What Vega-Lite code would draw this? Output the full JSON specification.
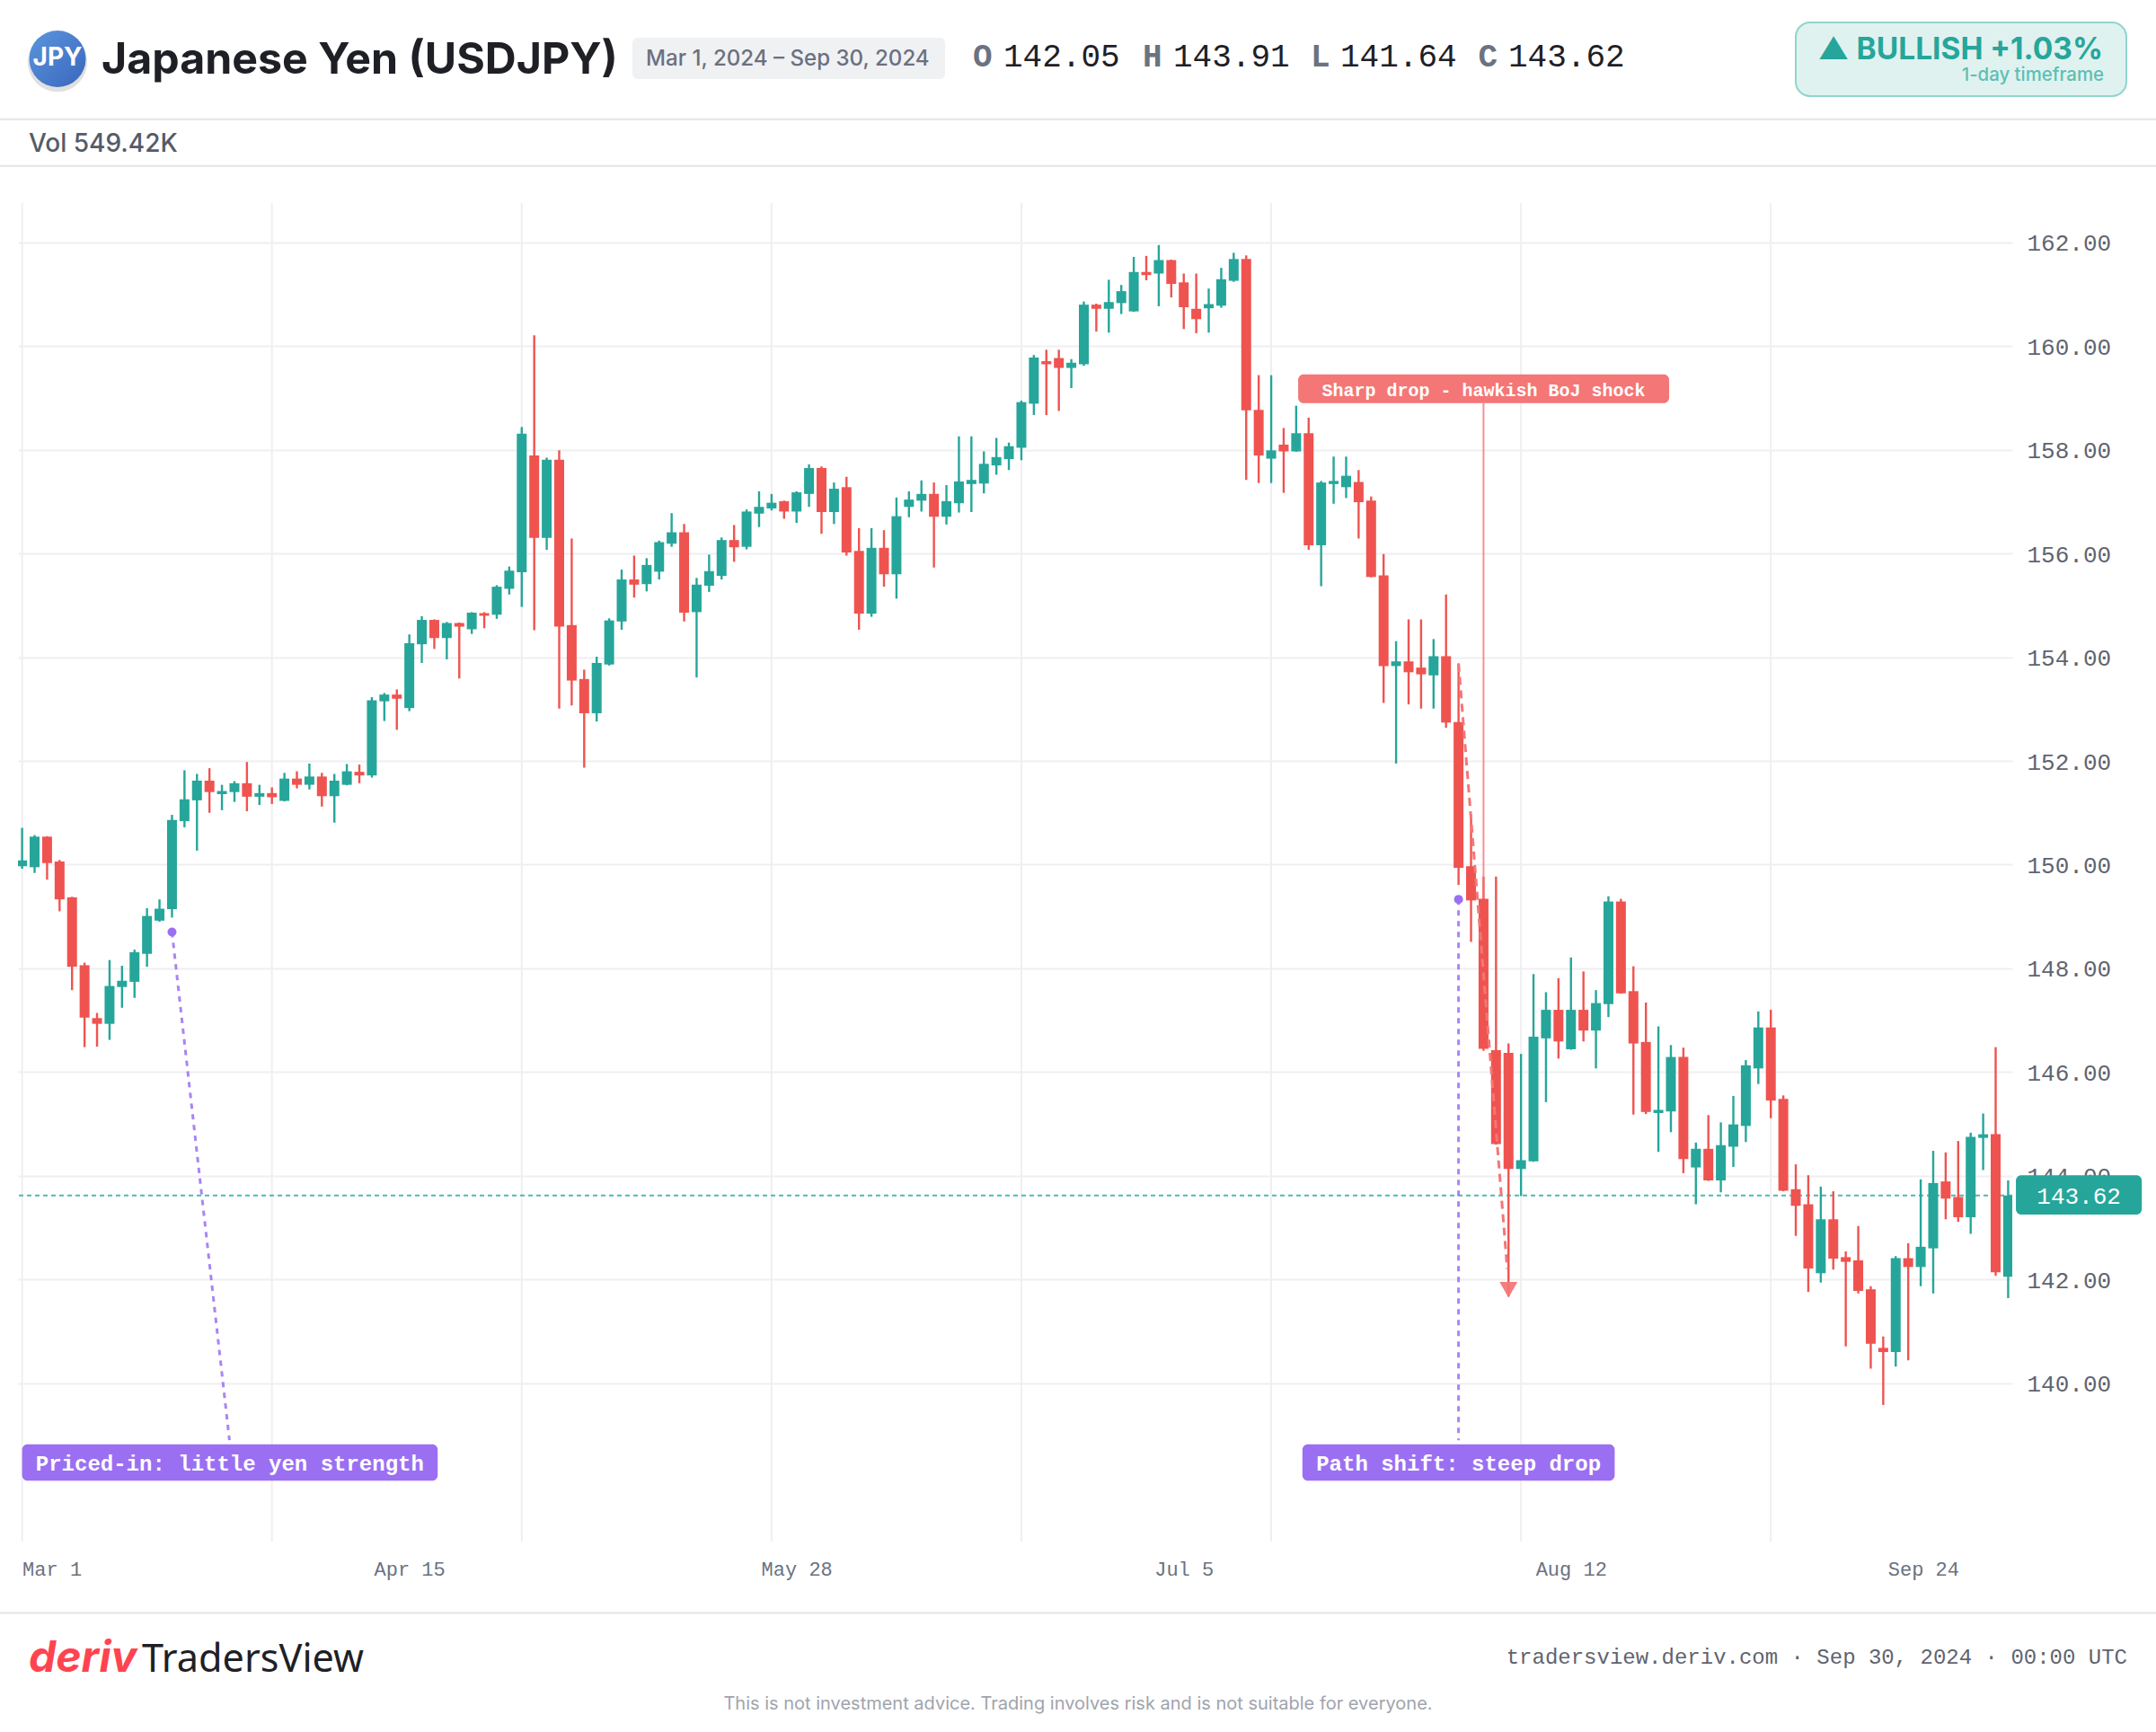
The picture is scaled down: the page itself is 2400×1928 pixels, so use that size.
{"$schema":"https://vega.github.io/schema/vega-lite/v6.json","width":2220,"height":1490,"autosize":{"type":"none"},"padding":{"left":20,"top":226,"right":160,"bottom":212},"background":"#ffffff","config":{"view":{"stroke":null}},
"datasets":{"candles":[
{"i":0,"o":149.97,"h":150.71,"l":149.92,"c":150.08},{"i":1,"o":149.95,"h":150.57,"l":149.84,"c":150.54},{"i":2,"o":150.54,"h":150.55,"l":149.71,"c":150.03},{"i":3,"o":150.06,"h":150.09,"l":149.10,"c":149.33},{"i":4,"o":149.37,"h":149.38,"l":147.58,"c":148.03},{"i":5,"o":148.06,"h":148.11,"l":146.48,"c":147.05},{"i":6,"o":147.04,"h":147.14,"l":146.49,"c":146.93},{"i":7,"o":146.93,"h":148.16,"l":146.62,"c":147.66},{"i":8,"o":147.64,"h":148.05,"l":147.24,"c":147.76},{"i":9,"o":147.74,"h":148.36,"l":147.43,"c":148.31},
{"i":10,"o":148.28,"h":149.16,"l":148.03,"c":149.01},{"i":11,"o":148.92,"h":149.33,"l":148.90,"c":149.15},{"i":12,"o":149.14,"h":150.96,"l":148.98,"c":150.86},{"i":13,"o":150.84,"h":151.82,"l":150.72,"c":151.26},{"i":14,"o":151.24,"h":151.75,"l":150.27,"c":151.62},{"i":15,"o":151.62,"h":151.86,"l":151.00,"c":151.40},{"i":16,"o":151.36,"h":151.54,"l":151.05,"c":151.42},{"i":17,"o":151.40,"h":151.61,"l":151.21,"c":151.57},{"i":18,"o":151.57,"h":151.98,"l":151.03,"c":151.31},{"i":19,"o":151.31,"h":151.54,"l":151.15,"c":151.38},
{"i":20,"o":151.38,"h":151.49,"l":151.17,"c":151.30},{"i":21,"o":151.23,"h":151.77,"l":151.22,"c":151.66},{"i":22,"o":151.66,"h":151.80,"l":151.47,"c":151.54},{"i":23,"o":151.54,"h":151.95,"l":151.45,"c":151.70},{"i":24,"o":151.70,"h":151.77,"l":151.12,"c":151.32},{"i":25,"o":151.32,"h":151.75,"l":150.81,"c":151.62},{"i":26,"o":151.54,"h":151.94,"l":151.53,"c":151.80},{"i":27,"o":151.79,"h":151.93,"l":151.57,"c":151.72},{"i":28,"o":151.72,"h":153.23,"l":151.68,"c":153.17},{"i":29,"o":153.15,"h":153.31,"l":152.77,"c":153.28},
{"i":30,"o":153.28,"h":153.38,"l":152.60,"c":153.20},{"i":31,"o":153.02,"h":154.44,"l":152.96,"c":154.27},{"i":32,"o":154.25,"h":154.79,"l":153.89,"c":154.72},{"i":33,"o":154.72,"h":154.73,"l":154.16,"c":154.37},{"i":34,"o":154.37,"h":154.68,"l":153.96,"c":154.66},{"i":35,"o":154.66,"h":154.67,"l":153.59,"c":154.59},{"i":36,"o":154.54,"h":154.87,"l":154.45,"c":154.86},{"i":37,"o":154.85,"h":154.87,"l":154.56,"c":154.80},{"i":38,"o":154.82,"h":155.39,"l":154.74,"c":155.36},{"i":39,"o":155.32,"h":155.75,"l":155.21,"c":155.67},
{"i":40,"o":155.64,"h":158.44,"l":154.97,"c":158.31},{"i":41,"o":157.89,"h":160.21,"l":154.52,"c":156.30},{"i":42,"o":156.30,"h":157.85,"l":156.07,"c":157.81},{"i":43,"o":157.81,"h":157.99,"l":153.01,"c":154.59},{"i":44,"o":154.62,"h":156.29,"l":153.07,"c":153.55},{"i":45,"o":153.58,"h":153.76,"l":151.87,"c":152.92},{"i":46,"o":152.92,"h":154.01,"l":152.76,"c":153.89},{"i":47,"o":153.86,"h":154.75,"l":153.84,"c":154.71},{"i":48,"o":154.69,"h":155.69,"l":154.53,"c":155.50},{"i":49,"o":155.50,"h":155.96,"l":155.15,"c":155.40},
{"i":50,"o":155.41,"h":155.91,"l":155.27,"c":155.78},{"i":51,"o":155.65,"h":156.25,"l":155.50,"c":156.22},{"i":52,"o":156.19,"h":156.78,"l":156.13,"c":156.41},{"i":53,"o":156.41,"h":156.57,"l":154.69,"c":154.86},{"i":54,"o":154.87,"h":155.53,"l":153.61,"c":155.40},{"i":55,"o":155.38,"h":155.98,"l":155.26,"c":155.66},{"i":56,"o":155.57,"h":156.31,"l":155.50,"c":156.26},{"i":57,"o":156.26,"h":156.55,"l":155.84,"c":156.12},{"i":58,"o":156.13,"h":156.85,"l":156.08,"c":156.81},{"i":59,"o":156.77,"h":157.20,"l":156.51,"c":156.90},
{"i":60,"o":156.87,"h":157.15,"l":156.83,"c":156.98},{"i":61,"o":157.01,"h":157.02,"l":156.67,"c":156.81},{"i":62,"o":156.81,"h":157.20,"l":156.59,"c":157.18},{"i":63,"o":157.15,"h":157.72,"l":156.90,"c":157.65},{"i":64,"o":157.65,"h":157.68,"l":156.38,"c":156.80},{"i":65,"o":156.80,"h":157.37,"l":156.57,"c":157.25},{"i":66,"o":157.28,"h":157.48,"l":155.96,"c":156.02},{"i":67,"o":156.05,"h":156.49,"l":154.53,"c":154.84},{"i":68,"o":154.84,"h":156.49,"l":154.78,"c":156.11},{"i":69,"o":156.11,"h":156.45,"l":155.36,"c":155.60},
{"i":70,"o":155.60,"h":157.08,"l":155.13,"c":156.72},{"i":71,"o":156.90,"h":157.20,"l":156.70,"c":157.04},{"i":72,"o":157.02,"h":157.41,"l":156.81,"c":157.15},{"i":73,"o":157.15,"h":157.37,"l":155.73,"c":156.71},{"i":74,"o":156.71,"h":157.32,"l":156.56,"c":157.01},{"i":75,"o":156.97,"h":158.26,"l":156.79,"c":157.39},{"i":76,"o":157.34,"h":158.26,"l":156.80,"c":157.42},{"i":77,"o":157.35,"h":157.97,"l":157.16,"c":157.73},{"i":78,"o":157.70,"h":158.23,"l":157.52,"c":157.86},{"i":79,"o":157.82,"h":158.14,"l":157.61,"c":158.07},
{"i":80,"o":158.04,"h":158.95,"l":157.80,"c":158.92},{"i":81,"o":158.89,"h":159.83,"l":158.67,"c":159.78},{"i":82,"o":159.71,"h":159.93,"l":158.67,"c":159.65},{"i":83,"o":159.77,"h":159.93,"l":158.75,"c":159.58},{"i":84,"o":159.58,"h":159.75,"l":159.19,"c":159.68},{"i":85,"o":159.65,"h":160.86,"l":159.62,"c":160.80},{"i":86,"o":160.80,"h":160.82,"l":160.28,"c":160.72},{"i":87,"o":160.72,"h":161.28,"l":160.26,"c":160.85},{"i":88,"o":160.83,"h":161.18,"l":160.62,"c":161.06},{"i":89,"o":160.67,"h":161.72,"l":160.66,"c":161.43},
{"i":90,"o":161.43,"h":161.74,"l":161.27,"c":161.37},{"i":91,"o":161.40,"h":161.95,"l":160.77,"c":161.66},{"i":92,"o":161.66,"h":161.67,"l":160.94,"c":161.20},{"i":93,"o":161.23,"h":161.40,"l":160.33,"c":160.75},{"i":94,"o":160.72,"h":161.40,"l":160.25,"c":160.52},{"i":95,"o":160.73,"h":161.11,"l":160.26,"c":160.81},{"i":96,"o":160.78,"h":161.51,"l":160.74,"c":161.29},{"i":97,"o":161.26,"h":161.80,"l":161.24,"c":161.68},{"i":98,"o":161.68,"h":161.75,"l":157.42,"c":158.76},{"i":99,"o":158.77,"h":159.44,"l":157.36,"c":157.89},
{"i":100,"o":157.83,"h":159.44,"l":157.36,"c":157.99},{"i":101,"o":158.10,"h":158.42,"l":157.17,"c":157.97},{"i":102,"o":157.97,"h":158.85,"l":157.96,"c":158.32},{"i":103,"o":158.32,"h":158.62,"l":156.07,"c":156.16},{"i":104,"o":156.16,"h":157.40,"l":155.37,"c":157.37},{"i":105,"o":157.34,"h":157.87,"l":156.96,"c":157.40},{"i":106,"o":157.28,"h":157.87,"l":157.07,"c":157.50},{"i":107,"o":157.38,"h":157.61,"l":156.29,"c":156.99},{"i":108,"o":157.02,"h":157.10,"l":155.54,"c":155.55},{"i":109,"o":155.58,"h":155.99,"l":153.12,"c":153.83},
{"i":110,"o":153.83,"h":154.31,"l":151.95,"c":153.92},{"i":111,"o":153.92,"h":154.73,"l":153.09,"c":153.71},{"i":112,"o":153.80,"h":154.73,"l":153.01,"c":153.67},{"i":113,"o":153.65,"h":154.35,"l":153.01,"c":154.02},{"i":114,"o":154.02,"h":155.21,"l":152.64,"c":152.74},{"i":115,"o":152.75,"h":153.88,"l":149.61,"c":149.94},{"i":116,"o":149.97,"h":150.97,"l":148.51,"c":149.31},{"i":117,"o":149.34,"h":149.77,"l":146.41,"c":146.45},{"i":118,"o":146.42,"h":149.77,"l":144.60,"c":144.61},{"i":119,"o":146.37,"h":146.55,"l":141.67,"c":144.13},
{"i":120,"o":144.13,"h":146.35,"l":143.61,"c":144.30},{"i":121,"o":144.28,"h":147.89,"l":144.27,"c":146.68},{"i":122,"o":146.65,"h":147.54,"l":145.42,"c":147.20},{"i":123,"o":147.20,"h":147.81,"l":146.26,"c":146.59},{"i":124,"o":146.44,"h":148.21,"l":146.43,"c":147.20},{"i":125,"o":147.20,"h":147.94,"l":146.59,"c":146.80},{"i":126,"o":146.80,"h":147.58,"l":146.07,"c":147.33},{"i":127,"o":147.31,"h":149.39,"l":147.06,"c":149.29},{"i":128,"o":149.29,"h":149.34,"l":147.51,"c":147.52},{"i":129,"o":147.56,"h":148.04,"l":145.18,"c":146.55},
{"i":130,"o":146.58,"h":147.34,"l":145.19,"c":145.23},{"i":131,"o":145.21,"h":146.88,"l":144.46,"c":145.27},{"i":132,"o":145.24,"h":146.52,"l":144.84,"c":146.29},{"i":133,"o":146.29,"h":146.47,"l":144.05,"c":144.32},{"i":134,"o":144.16,"h":144.64,"l":143.45,"c":144.52},{"i":135,"o":144.52,"h":145.17,"l":143.90,"c":143.91},{"i":136,"o":143.91,"h":145.03,"l":143.68,"c":144.59},{"i":137,"o":144.56,"h":145.54,"l":144.17,"c":144.99},{"i":138,"o":144.96,"h":146.23,"l":144.65,"c":146.13},{"i":139,"o":146.07,"h":147.17,"l":145.77,"c":146.86},
{"i":140,"o":146.86,"h":147.20,"l":145.11,"c":145.45},{"i":141,"o":145.48,"h":145.55,"l":143.70,"c":143.71},{"i":142,"o":143.74,"h":144.22,"l":142.84,"c":143.42},{"i":143,"o":143.45,"h":144.01,"l":141.76,"c":142.21},{"i":144,"o":142.12,"h":143.79,"l":141.94,"c":143.16},{"i":145,"o":143.16,"h":143.70,"l":142.19,"c":142.40},{"i":146,"o":142.43,"h":142.54,"l":140.71,"c":142.34},{"i":147,"o":142.37,"h":143.03,"l":141.73,"c":141.78},{"i":148,"o":141.81,"h":141.87,"l":140.28,"c":140.76},{"i":149,"o":140.68,"h":140.90,"l":139.58,"c":140.60},
{"i":150,"o":140.60,"h":142.45,"l":140.32,"c":142.41},{"i":151,"o":142.41,"h":142.70,"l":140.44,"c":142.24},{"i":152,"o":142.24,"h":143.93,"l":141.87,"c":142.63},{"i":153,"o":142.60,"h":144.48,"l":141.73,"c":143.86},{"i":154,"o":143.89,"h":144.45,"l":143.16,"c":143.56},{"i":155,"o":143.59,"h":144.67,"l":143.11,"c":143.20},{"i":156,"o":143.20,"h":144.83,"l":142.88,"c":144.75},{"i":157,"o":144.73,"h":145.20,"l":144.11,"c":144.80},{"i":158,"o":144.80,"h":146.48,"l":142.07,"c":142.14},{"i":159,"o":142.05,"h":143.91,"l":141.64,"c":143.62}
]},
"layer":[
{"data":{"values":[{"i":0},{"i":20},{"i":40},{"i":60},{"i":80},{"i":100},{"i":120},{"i":140}]},"mark":{"type":"rule","color":"#EFEFF2","strokeWidth":2},"encoding":{"x":{"field":"i","type":"quantitative","scale":{"domain":[-0.331,159.33],"nice":false,"zero":false,"padding":0},"axis":{"title":null,"values":[0,31,62,93,124,152.2],"labelExpr":"datum.value==0?'Mar 1':datum.value==31?'Apr 15':datum.value==62?'May 28':datum.value==93?'Jul 5':datum.value==124?'Aug 12':'Sep 24'","grid":false,"domain":false,"ticks":false,"labelFont":"Liberation Mono","labelFontSize":22,"labelColor":"#6B7280","labelPadding":20,"labelFlush":10,"labelOverlap":false}}}},
{"data":{"values":[{"price":143.62}]},"mark":{"type":"rule","color":"#26A69A","strokeWidth":2,"strokeDash":[5,4],"opacity":0.8},"encoding":{"y":{"field":"price","type":"quantitative","scale":{"domain":[136.945,162.76],"nice":false,"zero":false,"padding":0},"axis":{"title":null,"orient":"right","values":[140,142,144,146,148,150,152,154,156,158,160,162],"format":".2f","grid":true,"gridColor":"#EFEFF2","gridWidth":2,"domain":false,"ticks":false,"labelFont":"Liberation Mono","labelFontSize":26,"labelColor":"#5F6470","labelPadding":16,"labelOffset":1,"labelOverlap":false}}}},
{"data":{"name":"candles"},"mark":{"type":"rule","strokeWidth":2.4,"clip":true},"encoding":{
"x":{"field":"i","type":"quantitative"},
"y":{"field":"l","type":"quantitative"},
"y2":{"field":"h"},
"color":{"condition":{"test":"datum.c>=datum.o","value":"#26A69A"},"value":"#EF5350"}}},
{"data":{"name":"candles"},"mark":{"type":"bar","size":11,"clip":true},"encoding":{
"x":{"field":"i","type":"quantitative"},
"y":{"field":"o","type":"quantitative"},"y2":{"field":"c"},
"color":{"condition":{"test":"datum.c>=datum.o","value":"#26A69A"},"value":"#EF5350"}}},
{"data":{"values":[{"i":12,"i2":16.6,"v":148.7,"v2":138.9},{"i":115,"i2":115,"v":149.33,"v2":138.9}]},"mark":{"type":"rule","color":"#9B6FF2","strokeWidth":3,"strokeDash":[6,6],"opacity":0.85},"encoding":{"x":{"field":"i","type":"quantitative"},"x2":{"field":"i2"},"y":{"field":"v","type":"quantitative"},"y2":{"field":"v2"}}},
{"data":{"values":[{"i":12,"v":148.7},{"i":115,"v":149.33}]},"mark":{"type":"point","filled":true,"shape":"circle","size":100,"color":"#9B6FF2","opacity":1},"encoding":{"x":{"field":"i","type":"quantitative"},"y":{"field":"v","type":"quantitative"}}},
{"data":{"values":[{"i":115,"i2":118.9,"v":153.88,"v2":142.2}]},"mark":{"type":"rule","color":"#F47676","strokeWidth":3,"strokeDash":[9,6]},"encoding":{"x":{"field":"i","type":"quantitative"},"x2":{"field":"i2"},"y":{"field":"v","type":"quantitative"},"y2":{"field":"v2"}}},
{"data":{"values":[{"i":119,"v":141.8}]},"mark":{"type":"point","filled":true,"shape":"triangle-down","size":400,"color":"#F47676","opacity":0.95},"encoding":{"x":{"field":"i","type":"quantitative"},"y":{"field":"v","type":"quantitative"}}},
{"data":{"values":[{"i":117,"v":158.9,"v2":149.35}]},"mark":{"type":"rule","color":"#F47676","strokeWidth":2,"opacity":0.8},"encoding":{"x":{"field":"i","type":"quantitative"},"y":{"field":"v","type":"quantitative"},"y2":{"field":"v2"}}},
{"data":{"values":[{"a":102.16,"b":131.86,"top":159.456,"bot":158.9,"color":"r"},{"a":0,"b":33.27,"top":138.82,"bot":138.12,"color":"p"},{"a":102.5,"b":127.5,"top":138.82,"bot":138.12,"color":"p"},{"a":159.62,"b":169.7,"top":144.01,"bot":143.25,"color":"g"}]},"mark":{"type":"rect","cornerRadius":6},"encoding":{"x":{"field":"a","type":"quantitative"},"x2":{"field":"b"},"y":{"field":"top","type":"quantitative"},"y2":{"field":"bot"},"color":{"field":"color","type":"nominal","legend":null,"scale":{"domain":["r","p","g"],"range":["#F47676","#9B6FF2","#26A69A"]}}}},
{"data":{"values":[{"i":117,"v":159.145,"label":"Sharp drop - hawkish BoJ shock"}]},"mark":{"type":"text","font":"Liberation Mono","fontWeight":"bold","fontSize":20,"color":"#ffffff","baseline":"middle"},"encoding":{"x":{"field":"i","type":"quantitative"},"y":{"field":"v","type":"quantitative"},"text":{"field":"label"}}},
{"data":{"values":[{"i":16.63,"v":138.43,"label":"Priced-in: little yen strength"},{"i":115,"v":138.43,"label":"Path shift: steep drop"}]},"mark":{"type":"text","font":"Liberation Mono","fontWeight":"bold","fontSize":24,"color":"#ffffff","baseline":"middle"},"encoding":{"x":{"field":"i","type":"quantitative"},"y":{"field":"v","type":"quantitative"},"text":{"field":"label"}}},
{"data":{"values":[{"i":164.66,"v":143.6,"label":"143.62"}]},"mark":{"type":"text","font":"Liberation Mono","fontSize":26,"color":"#ffffff","baseline":"middle"},"encoding":{"x":{"field":"i","type":"quantitative"},"y":{"field":"v","type":"quantitative"},"text":{"field":"label"}}},
{"data":{"values":[{}]},"mark":{"type":"rect","x":-20,"x2":2380,"y":-94.3,"y2":-92.3,"color":"#E3E3E8"},"encoding":{}},
{"data":{"values":[{}]},"mark":{"type":"rect","x":-20,"x2":2380,"y":-42.3,"y2":-40.3,"color":"#E3E3E8"},"encoding":{}},
{"data":{"values":[{}]},"mark":{"type":"rect","x":-20,"x2":2380,"y":1568.5,"y2":1570.5,"color":"#E3E3E8"},"encoding":{}},
{"data":{"values":[{}]},"mark":{"type":"point","filled":true,"shape":"circle","size":4400,"x":44,"y":-157,"color":"#000000","opacity":0.12},"encoding":{}},
{"data":{"values":[{}]},"mark":{"type":"point","filled":true,"shape":"circle","size":3969,"x":44,"y":-160.5,"opacity":1,"color":{"gradient":"linear","x1":0,"y1":0,"x2":1,"y2":1,"stops":[{"offset":0,"color":"#5B96DE"},{"offset":1,"color":"#3A66BC"}]}},"encoding":{}},
{"data":{"values":[{"label":"JPY"}]},"mark":{"type":"text","x":44,"y":-161.5,"font":"Inter","fontWeight":"bold","fontSize":28,"color":"#ffffff","align":"center","baseline":"middle"},"encoding":{"text":{"field":"label"}}},
{"data":{"values":[{"label":"Japanese Yen (USDJPY)"}]},"mark":{"type":"text","x":93,"y":-144.3,"font":"Inter","fontWeight":"bold","fontSize":48.3,"color":"#1E2026","align":"left","baseline":"alphabetic"},"encoding":{"text":{"field":"label"}}},
{"data":{"values":[{}]},"mark":{"type":"rect","x":684,"x2":1032,"y":-184,"y2":-138,"color":"#F0F1F3","cornerRadius":6},"encoding":{}},
{"data":{"values":[{"label":"Mar 1, 2024 – Sep 30, 2024"}]},"mark":{"type":"text","x":699,"y":-160.5,"font":"Inter","fontWeight":500,"fontSize":24.1,"color":"#6B7080","align":"left","baseline":"middle"},"encoding":{"text":{"field":"label"}}},
{"data":{"values":[{"label":"O","x":1063},{"label":"H","x":1252},{"label":"L","x":1439},{"label":"C","x":1625.5}]},"mark":{"type":"text","y":-152,"font":"Liberation Mono","fontWeight":"bold","fontSize":36,"color":"#6B7280","align":"left","baseline":"alphabetic","x":{"expr":"datum.x"}},"encoding":{"text":{"field":"label"}}},
{"data":{"values":[{"label":"142.05","x":1097},{"label":"143.91","x":1286},{"label":"141.64","x":1472},{"label":"143.62","x":1659}]},"mark":{"type":"text","y":-152,"font":"Liberation Mono","fontSize":36,"color":"#1E2026","align":"left","baseline":"alphabetic","x":{"expr":"datum.x"}},"encoding":{"text":{"field":"label"}}},
{"data":{"values":[{}]},"mark":{"type":"rect","x":1979,"x2":2347,"y":-201,"y2":-119,"color":"#E0F2F0","stroke":"#8FD5CC","strokeWidth":2,"cornerRadius":16},"encoding":{}},
{"data":{"values":[{"label":"▲ BULLISH +1.03%"}]},"mark":{"type":"text","x":2321,"y":-160,"font":"Inter","fontWeight":"bold","fontSize":33.5,"color":"#26A69A","align":"right","baseline":"alphabetic"},"encoding":{"text":{"field":"label"}}},
{"data":{"values":[{"label":"1-day timeframe"}]},"mark":{"type":"text","x":2322,"y":-142,"font":"Inter","fontWeight":500,"fontSize":20.4,"color":"#5CBFB4","align":"right","baseline":"middle"},"encoding":{"text":{"field":"label"}}},
{"data":{"values":[{"label":"Vol 549.42K"}]},"mark":{"type":"text","x":12,"y":-65.5,"font":"Inter","fontWeight":500,"fontSize":28,"color":"#555B67","align":"left","baseline":"middle"},"encoding":{"text":{"field":"label"}}},
{"data":{"values":[{"label":"deriv"}]},"mark":{"type":"text","x":12,"y":1635,"font":"Inter","fontWeight":"bold","fontStyle":"italic","fontSize":48,"color":"#FF444F","align":"left","baseline":"alphabetic"},"encoding":{"text":{"field":"label"}}},
{"data":{"values":[{"label":"TradersView"}]},"mark":{"type":"text","x":138,"y":1634.5,"font":"Noto Sans","fontSize":43.2,"color":"#1E2026","align":"left","baseline":"alphabetic"},"encoding":{"text":{"field":"label"}}},
{"data":{"values":[{"label":"tradersview.deriv.com · Sep 30, 2024 · 00:00 UTC"}]},"mark":{"type":"text","x":2348,"y":1618.5,"font":"Liberation Mono","fontSize":24,"color":"#5F6470","align":"right","baseline":"middle"},"encoding":{"text":{"field":"label"}}},
{"data":{"values":[{"label":"This is not investment advice. Trading involves risk and is not suitable for everyone."}]},"mark":{"type":"text","x":1180,"y":1671,"font":"Inter","fontSize":20,"color":"#A0A4AD","align":"center","baseline":"middle"},"encoding":{"text":{"field":"label"}}}
]}
